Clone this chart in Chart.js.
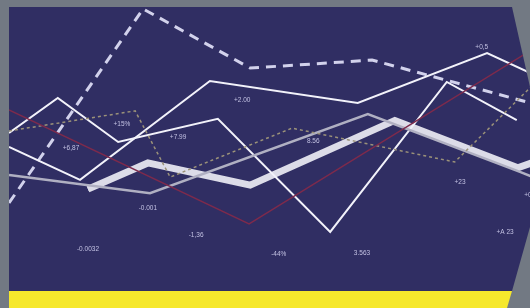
<!DOCTYPE html>
<html>
<head>
<meta charset="utf-8">
<script src="https://cdn.jsdelivr.net/npm/chart.js@4"></script>
<style>
body{margin:0;background:#727983;}
canvas{display:block;}
</style>
</head>
<body>
<canvas id="myChart" width="530" height="308"></canvas>
<script>
// series, x and y both on a 0..100 scale
const dashX = [1.7, 27.0, 47.2, 70.2, 100]
const dashY = [34.1, 97.1, 77.9, 80.5, 66.6]
const lineAX = [1.7, 10.9, 22.3, 41.1, 62.3, 84.3, 97.5]
const lineAY = [56.8, 68.2, 53.9, 61.4, 24.7, 73.4, 61.0]
const lineBX = [1.7, 15.1, 39.6, 67.5, 91.9, 101.9]
const lineBY = [52.3, 41.6, 73.7, 66.6, 82.8, 74.8]
const thickX = [16.6, 27.9, 47.2, 74.5, 97.7, 101.9]
const thickY = [38.6, 47.1, 39.9, 60.9, 45.5, 48.1]
const greyX = [1.7, 28.3, 69.4, 98.1, 101.9]
const greyY = [43.2, 37.3, 63.0, 44.2, 41.6]
const dotX = [1.7, 25.5, 32.1, 55.1, 85.8, 101.9]
const dotY = [57.5, 64.0, 42.5, 58.4, 47.4, 74.7]
const redX = [1.7, 47.0, 98.7, 101.9]
const redY = [64.3, 27.3, 82.1, 85.6]

// value labels
const tagText = ['+15%', '+6,87', '+7.99', '+2.00', '8.56', '+0,5', '-0.001', '-0.0032', '-1,36', '-44%', '3.563', '+23', '+A 23', '+0']
const tagX = [23.0, 13.4, 33.6, 45.7, 59.1, 90.9, 27.9, 16.6, 37.0, 52.6, 68.3, 86.8, 95.3, 99.6]
const tagY = [59.7, 51.9, 55.5, 67.5, 54.2, 84.7, 32.5, 19.2, 23.7, 17.5, 17.9, 40.9, 24.7, 36.7]

function pts(xs, ys){
	var out = []
	for(var i = 0;i < xs.length;i++) out.push({x: xs[i], y: ys[i]})
	return out
}

function panelPath(ctx){
	ctx.beginPath()
	ctx.moveTo(9, 7)
	ctx.lineTo(512, 7)
	ctx.lineTo(530, 87)
	ctx.lineTo(530, 227)
	ctx.lineTo(512, 291)
	ctx.lineTo(9, 291)
	ctx.closePath()
}

const backdrop = {
	id: 'backdrop',
	beforeDraw(chart){
		var ctx = chart.ctx
		ctx.save()
		ctx.fillStyle = '#727983'
		ctx.fillRect(0, 0, chart.width, chart.height)
		ctx.fillStyle = '#302e63'
		panelPath(ctx)
		ctx.fill()
		// yellow band
		ctx.fillStyle = '#f6e82c'
		ctx.beginPath()
		ctx.moveTo(9, 291)
		ctx.lineTo(512, 291)
		ctx.lineTo(507, 308)
		ctx.lineTo(9, 308)
		ctx.closePath()
		ctx.fill()
		ctx.restore()
	},
	beforeDatasetsDraw(chart){
		chart.ctx.save()
		panelPath(chart.ctx)
		chart.ctx.clip()
	},
	afterDatasetsDraw(chart){
		chart.ctx.restore()
		var ctx = chart.ctx
		var xs = chart.scales.x, ys = chart.scales.y
		ctx.save()
		panelPath(ctx)
		ctx.clip()
		ctx.fillStyle = '#c2c1e2'
		ctx.font = '6.5px "Liberation Sans", sans-serif'
		ctx.textAlign = 'center'
		ctx.textBaseline = 'middle'
		for(var i = 0;i < tagText.length;i++){
			ctx.fillText(tagText[i], xs.getPixelForValue(tagX[i]), ys.getPixelForValue(tagY[i]))
		}
		ctx.restore()
	}
}

var ctx = document.getElementById('myChart').getContext('2d')
var myChart = new Chart(ctx, {
	type: 'line',
	data: {
		datasets: [
			{data: pts(redX, redY), borderColor: '#7d2a4c', borderWidth: 1.3},
			{data: pts(dotX, dotY), borderColor: '#9b9279', borderWidth: 1.5, borderDash: [3, 3]},
			{data: pts(greyX, greyY), borderColor: '#b0b0c2', borderWidth: 2.5},
			{data: pts(lineAX, lineAY), borderColor: '#f2f2fa', borderWidth: 2},
			{data: pts(lineBX, lineBY), borderColor: '#f2f2fa', borderWidth: 2},
			{data: pts(thickX, thickY), borderColor: '#dcdce8', borderWidth: 7},
			{data: pts(thickX, thickY), borderColor: '#ffffff', borderWidth: 4},
			{data: pts(dashX, dashY), borderColor: '#d2d2ec', borderWidth: 3, borderDash: [10, 7]}
		]
	},
	options: {
		responsive: false,
		animation: false,
		layout: {padding: 0},
		elements: {point: {radius: 0}, line: {tension: 0}},
		plugins: {legend: {display: false}, tooltip: {enabled: false}},
		scales: {
			x: {type: 'linear', min: 0, max: 100, display: false},
			y: {type: 'linear', min: 0, max: 100, display: false}
		}
	},
	plugins: [backdrop]
})
</script>
</body>
</html>
